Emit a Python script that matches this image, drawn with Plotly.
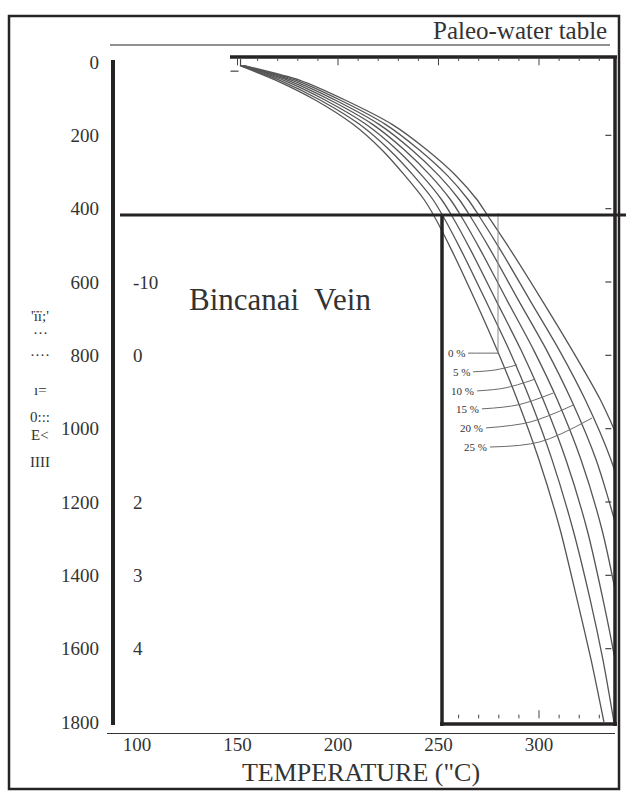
import plotly.graph_objects as go

# ---------------- data ----------------
depth_m = [10, 50, 105, 170, 240, 310, 375, 420, 515, 650, 785, 920, 1085, 1275, 1465, 1630, 1800]
curve_0 = [151.2, 169.2, 189.1, 207.5, 221.9, 233.3, 242.8, 247.8, 256.7, 268.2, 279.1, 289.1, 300.0, 310.5, 318.9, 325.9, 332.3]
curve_5 = [151.6, 171.1, 191.5, 210.7, 225.6, 237.6, 247.2, 252.2, 261.4, 273.4, 285.1, 295.5, 306.5, 316.9, 325.4, 331.8, 337.3]
curve_10 = [151.9, 173.1, 194.0, 213.9, 229.4, 241.8, 251.5, 256.7, 266.2, 278.6, 291.0, 302.0, 313.4, 323.9, 331.8, 337.8, 342.8]
curve_15 = [152.3, 175.1, 196.5, 217.2, 233.1, 246.0, 255.9, 261.2, 271.1, 284.1, 297.3, 309.0, 320.9, 331.3, 338.8, 344.3, 348.8]
curve_20 = [152.6, 177.1, 199.0, 220.4, 236.8, 250.2, 260.3, 265.7, 276.1, 289.8, 303.7, 315.9, 328.4, 338.8, 346.3, 351.2, 355.2]
curve_25 = [153.0, 179.1, 201.5, 223.6, 240.5, 254.5, 264.7, 270.2, 281.1, 295.5, 310.0, 322.9, 335.8, 346.3, 353.7, 358.2, 362.2]
curve_30 = [153.3, 181.1, 204.0, 226.9, 244.3, 258.7, 269.1, 274.6, 286.1, 301.5, 316.4, 330.4, 343.8, 354.2, 361.7, 365.7, 369.2]

salinity_labels = ["0 %", "5 %", "10 %", "15 %", "20 %", "25 %"]
leader_start_T = [264.7, 267.2, 269.2, 271.6, 273.6, 275.6]
leader_start_d = [794, 845, 897, 946, 998, 1050]
leader_mid_T = [272.0, 278.1, 283.1, 289.6, 295.5, 300.5]
leader_mid_d = [794, 840, 889, 935, 982, 1036]
leader_end_T = [279.6, 289.1, 298.0, 307.0, 316.9, 326.4]
leader_end_d = [794, 826, 865, 903, 936, 971]

x_tick_vals = [100, 150, 200, 250, 300]
y_tick_vals = [0, 200, 400, 600, 800, 1000, 1200, 1400, 1600, 1800]
second_scale_labels = ["-10", "0", "2", "3", "4"]
second_scale_depths = [600, 800, 1200, 1400, 1600]
inset_minor_ticks = list(range(150, 340, 10))
inset_right_ticks = [200, 400, 600, 800, 1000, 1200, 1400, 1600]

# ---------------- styling ----------------
SERIF = "Liberation Serif, Times New Roman, serif"
DARK = "#262324"
CURVE = "#555555"

fig = go.Figure()

curves = [curve_0, curve_5, curve_10, curve_15, curve_20, curve_25, curve_30]
for c in curves:
    fig.add_trace(go.Scatter(x=c, y=depth_m, mode="lines",
                             line=dict(color=CURVE, width=1.3, shape="spline", smoothing=0.7),
                             hoverinfo="skip"))

# leaders for salinity labels
for i, lab in enumerate(salinity_labels):
    fig.add_trace(go.Scatter(x=[leader_start_T[i], leader_mid_T[i], leader_end_T[i]],
                             y=[leader_start_d[i], leader_mid_d[i], leader_end_d[i]],
                             mode="lines", line=dict(color="#6a6a6a", width=1, shape="spline"),
                             hoverinfo="skip"))
    fig.add_annotation(x=leader_start_T[i], y=leader_start_d[i], text=lab, showarrow=False,
                       xanchor="right", yanchor="middle", xshift=-1,
                       font=dict(family=SERIF, size=11, color="#333"))

# thin grey vertical guide
fig.add_shape(type="line", x0=leader_end_T[0], x1=leader_end_T[0], y0=412, y1=leader_end_d[0],
              line=dict(color="#8a8a8a", width=1))

# second scale labels
for lab, d in zip(second_scale_labels, second_scale_depths):
    fig.add_annotation(x=97, y=d, text=lab, showarrow=False, xanchor="left", yanchor="middle",
                       font=dict(family=SERIF, size=19, color="#333"))

fig.add_annotation(x=171, y=649, text="Bincanai  Vein", showarrow=False,
                   font=dict(family=SERIF, size=31, color="#333"))


def px(x):
    return (x - 107) / 508.0


def py(y):
    return (733 - y) / 689.0


def pline(x0, y0, x1, y1, w=3.5, color=DARK):
    fig.add_shape(type="line", xref="paper", yref="paper", x0=px(x0), y0=py(y0), x1=px(x1), y1=py(y1),
                  line=dict(color=color, width=w))


# outer border
fig.add_shape(type="rect", xref="paper", yref="paper", x0=px(9), y0=py(16), x1=px(619), y1=py(789),
              line=dict(color=DARK, width=2.5))
# paleo water table
pline(110, 45, 610, 45, w=1.2)
fig.add_annotation(xref="paper", yref="paper", x=px(609), y=py(30), text="Paleo-water table",
                   showarrow=False, xanchor="right", yanchor="middle",
                   font=dict(family=SERIF, size=25, color="#333"))
# main left thick axis
pline(113, 60, 113, 725, w=4)
# inset frame
pline(230, 57, 617, 57, w=3.5)
pline(615, 57, 615, 726, w=3.5)
pline(120, 215, 626, 215, w=3)
pline(442, 215, 442, 726, w=3.5)
pline(440, 724, 617, 724, w=3.5)

# inset ticks (top & bottom), right-side ticks
for t in inset_minor_ticks:
    major = (t % 50 == 0)
    L = 22 if major else 10
    fig.add_shape(type="line", x0=t, x1=t, y0=-13, y1=-13 + L, line=dict(color="#444", width=1))
    if t >= 260:
        fig.add_shape(type="line", x0=t, x1=t, y0=1790, y1=1790 - L, line=dict(color="#444", width=1))
for d in inset_right_ticks:
    fig.add_shape(type="line", x0=333, x1=336, y0=d, y1=d, line=dict(color="#444", width=1.2))
# small marks at the curve origin
fig.add_shape(type="line", x0=146.5, x1=150.5, y0=25, y1=25, line=dict(color="#444", width=1.2))
fig.add_shape(type="line", x0=151.5, x1=151.5, y0=-8, y1=10, line=dict(color="#444", width=1.2))

# garbled axis label (as in the scan)
garble = ["'ïï;'", "···", "····", "ı=", "0:::", "E<", "IIII"]
garble_y = [316, 333, 355, 390, 417, 435, 462]
for g, yy in zip(garble, garble_y):
    fig.add_annotation(xref="paper", yref="paper", x=px(40), y=py(yy), text=g, showarrow=False,
                       xanchor="center", yanchor="middle", font=dict(family=SERIF, size=15, color="#333"))

fig.update_layout(
    width=626, height=803,
    margin=dict(l=107, r=11, t=44, b=70),
    plot_bgcolor="white", paper_bgcolor="white",
    showlegend=False,
    xaxis=dict(range=[85.07, 337.81], tickvals=x_tick_vals, showgrid=False, zeroline=False,
               showline=True, linecolor="#333", linewidth=1, ticks="", ticklabelstandoff=-6,
               tickfont=dict(family=SERIF, size=19, color="#333"),
               title=dict(text='TEMPERATURE ("C)', font=dict(family=SERIF, size=26, color="#333"), standoff=9)),
    yaxis=dict(range=[1830, -49.1], tickvals=y_tick_vals, showgrid=False, zeroline=False,
               showline=False, ticks="", ticklabelstandoff=7,
               tickfont=dict(family=SERIF, size=19, color="#333")),
)

fig.write_html("out.html", config={"displayModeBar": False},
               post_script="document.body.style.margin='0px';")
